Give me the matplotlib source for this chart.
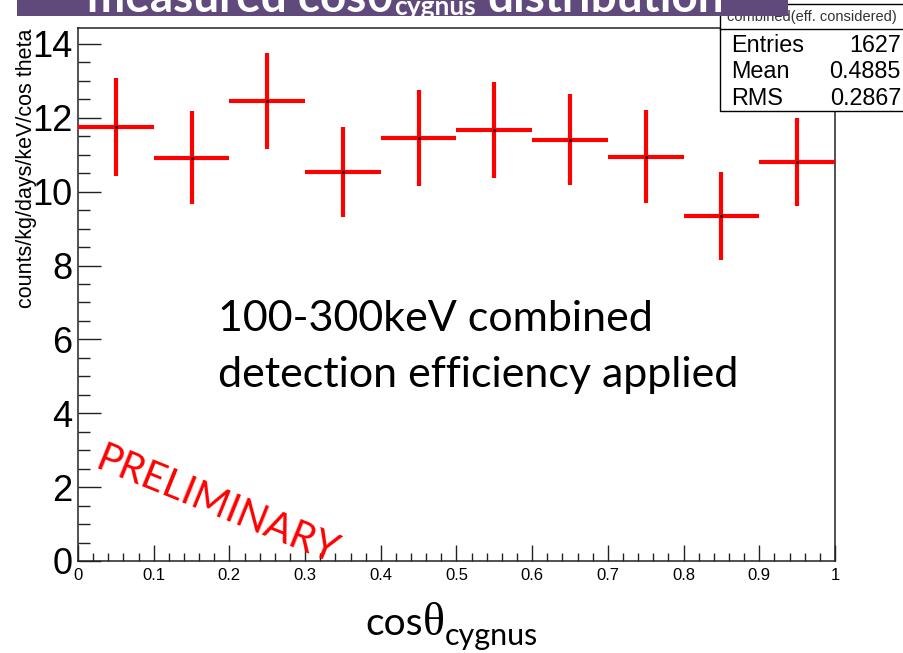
import numpy as np
import matplotlib
matplotlib.use('Agg')
import matplotlib.pyplot as plt
from matplotlib.patches import Rectangle
from matplotlib.ticker import MultipleLocator, FixedLocator

# cos(theta_cygnus) bins, efficiency-corrected rate and its error
cos_bins = [0.05, 0.15, 0.25, 0.35, 0.45, 0.55, 0.65, 0.75, 0.85, 0.95]
bin_half_width = [0.05] * 10
rate = [11.75, 10.92, 12.46, 10.53, 11.45, 11.68, 11.41, 10.95, 9.35, 10.80]
rate_err = [1.32, 1.25, 1.30, 1.21, 1.29, 1.30, 1.24, 1.26, 1.19, 1.19]

x_ticks = [0, 0.1, 0.2, 0.3, 0.4, 0.5, 0.6, 0.7, 0.8, 0.9, 1.0]
x_ticklabels = ['0', '0.1', '0.2', '0.3', '0.4', '0.5', '0.6', '0.7', '0.8', '0.9', '1']
y_ticks = [0, 2, 4, 6, 8, 10, 12, 14]

stats_names = ['Entries', 'Mean', 'RMS']
stats_values = ['1627', '0.4885', '0.2867']

W, H = 904, 653
def px(x, y):
    # pixel position (from top left) -> figure fraction
    return x / W, 1 - y / H

root_font = 'Liberation Sans'
slide_font = ['Lato', 'DejaVu Sans']
greek_font = ['Liberation Serif', 'DejaVu Serif']

fig = plt.figure(figsize=(W / 100, H / 100), dpi=100)
fig.patch.set_facecolor('white')
ax = fig.add_axes([78 / W, 1 - 561 / H, (835 - 78) / W, (561 - 28) / H])

ax.errorbar(cos_bins, rate, xerr=bin_half_width, yerr=rate_err, fmt='.', color='black',
            markersize=2, ecolor='#ff0000', elinewidth=3, capsize=0, zorder=3)

ax.set_xlim(0, 1)
ax.set_ylim(0, 14.43)

ax.xaxis.set_major_locator(FixedLocator(x_ticks))
ax.set_xticklabels(x_ticklabels, family=root_font, fontsize=12)
ax.xaxis.set_minor_locator(MultipleLocator(0.02))
ax.yaxis.set_major_locator(FixedLocator(y_ticks))
ax.set_yticklabels([str(v) for v in y_ticks], family=root_font, fontsize=26)
ax.yaxis.set_minor_locator(MultipleLocator(0.5))

ax.tick_params(axis='x', which='major', direction='in', length=11.5, width=1, pad=5, colors='#222222')
ax.tick_params(axis='x', which='minor', direction='in', length=5.8, width=1, colors='#222222')
ax.tick_params(axis='y', which='major', direction='in', length=16.5, width=1, pad=4, colors='#222222')
ax.tick_params(axis='y', which='minor', direction='in', length=8.6, width=1, colors='#222222')
ax.tick_params(labelcolor='black')
for s in ax.spines.values():
    s.set_linewidth(1.1)
    s.set_color('#222222')

# slide annotations
fig.text(*px(218, 331), '100-300keV combined', family=slide_font, fontsize=31,
         ha='left', va='baseline')
fig.text(*px(218, 387), 'detection efficiency applied', family=slide_font, fontsize=31,
         ha='left', va='baseline')
fig.text(*px(93, 468), 'PRELIMINARY', family=slide_font, fontsize=28.5, color='#ff0000',
         rotation=-22, rotation_mode='anchor', ha='left', va='baseline', zorder=4)

# y axis title (ROOT style, top aligned)
fig.text(*px(27, 29), 'counts/kg/days/keV/cos theta', family=root_font, fontsize=15.5,
         rotation=90, ha='center', va='top')

# x axis title: cos, theta, subscript placed one after the other
renderer = fig.canvas.get_renderer()
t_cos = fig.text(*px(365, 635), 'cos', family=slide_font, fontsize=28, ha='left', va='baseline')
x_end = t_cos.get_window_extent(renderer).x1
t_th = fig.text(x_end / W, 1 - 635 / H, '\u03b8', family=greek_font, fontsize=33,
                ha='left', va='baseline')
x_end = t_th.get_window_extent(renderer).x1
fig.text(x_end / W, 1 - 645 / H, 'cygnus', family=slide_font, fontsize=22,
         ha='left', va='baseline')

# stats box
box = Rectangle(px(720, 111), (905 - 720) / W, (111 - 4) / H, transform=fig.transFigure,
                facecolor='white', edgecolor='black', linewidth=1, zorder=5)
fig.patches.append(box)
fig.add_artist(plt.Line2D([720 / W, 905 / W], [1 - 29 / H, 1 - 29 / H], color='black',
                          linewidth=1, transform=fig.transFigure, zorder=6))
fig.text(*px(812, 21), 'combined(eff. considered)', family=root_font, fontsize=10.5,
         ha='center', va='baseline', color='#333333', zorder=6)
for i, (name, val) in enumerate(zip(stats_names, stats_values)):
    yb = 52 + i * 26.5
    fig.text(*px(731, yb), name, family=root_font, fontsize=16.8, ha='left', va='baseline', zorder=6)
    fig.text(*px(901, yb), val, family=root_font, fontsize=16.8, ha='right', va='baseline', zorder=6)

# slide title bar, mostly cut off at the top
bar = Rectangle(px(17, 16), (788 - 17) / W, 20 / H, transform=fig.transFigure,
                facecolor='#604a7b', edgecolor='none', zorder=7)
fig.patches.append(bar)
t1 = fig.text(*px(87, 12), 'measured cos\u03b8', family=slide_font, fontsize=33, weight='bold',
              color='white', ha='left', va='baseline', zorder=8)
x_end = t1.get_window_extent(renderer).x1
t2 = fig.text(x_end / W, 1 - 15 / H, 'cygnus', family=slide_font, fontsize=19, weight='bold',
              color='white', ha='left', va='baseline', zorder=8)
x_end = t2.get_window_extent(renderer).x1
fig.text((x_end + 12) / W, 1 - 12 / H, 'distribution', family=slide_font, fontsize=33,
         weight='bold', color='white', ha='left', va='baseline', zorder=8)

fig.savefig('out.png', dpi=100)
